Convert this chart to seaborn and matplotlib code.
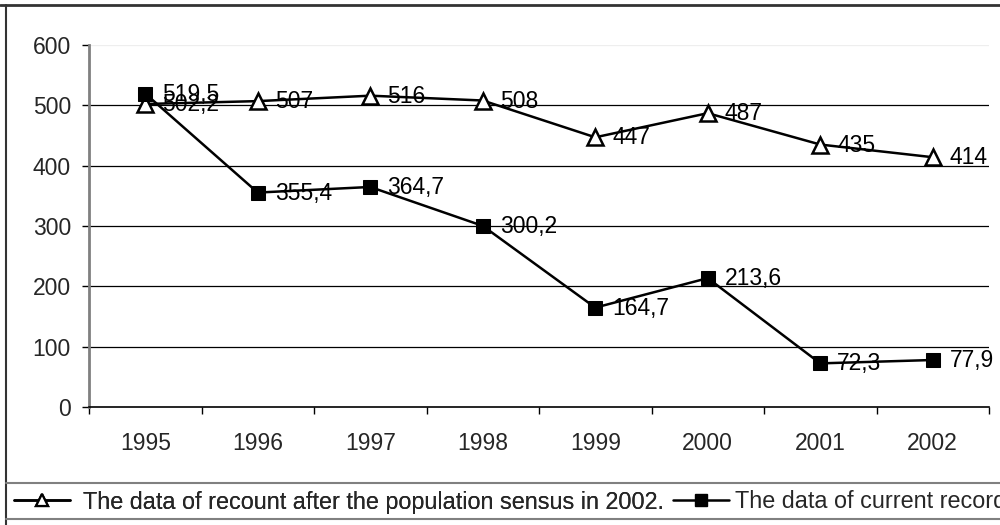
import matplotlib
matplotlib.use("Agg")
import matplotlib.pyplot as plt
import seaborn as sns
import pandas as pd
from matplotlib.lines import Line2D

years = ["1995", "1996", "1997", "1998", "1999", "2000", "2001", "2002"]
recount = [502.2, 507, 516, 508, 447, 487, 435, 414]
current = [519.5, 355.4, 364.7, 300.2, 164.7, 213.6, 72.3, 77.9]
name_recount = "The data of recount after the population sensus in 2002."
name_current = "The data of current records"
yticks = [0, 100, 200, 300, 400, 500, 600]

sns.set_style("white")
plt.rcParams["font.family"] = ["Liberation Sans", "DejaVu Sans"]
FS = 16.5
FSL = 16.8

fig = plt.figure(figsize=(10, 5.25), dpi=100)
ax = fig.add_axes([89/1000, 1-407/525, 900/1000, 362/525])

pos = list(range(len(years)))
df = pd.DataFrame({"pos": pos + pos,
                   "value": recount + current,
                   "series": [name_recount]*len(years) + [name_current]*len(years)})

sns.lineplot(data=df[df.series == name_recount], x="pos", y="value", ax=ax,
             color="black", lw=1.8, marker="^", markersize=11,
             markerfacecolor="white", markeredgecolor="black", markeredgewidth=1.8,
             legend=False, zorder=4)
sns.lineplot(data=df[df.series == name_current], x="pos", y="value", ax=ax,
             color="black", lw=1.8, marker="s", markersize=10,
             markerfacecolor="black", markeredgecolor="black",
             legend=False, zorder=4)

def fmt(v):
    s = ("%.1f" % v).rstrip("0").rstrip(".")
    return s.replace(".", ",")

for i, v in enumerate(recount):
    ax.annotate(fmt(v), (i, v), xytext=(17, -7), textcoords="offset pixels",
                ha="left", va="baseline", fontsize=FS, color="black", zorder=5)
for i, v in enumerate(current):
    ax.annotate(fmt(v), (i, v), xytext=(17, -7), textcoords="offset pixels",
                ha="left", va="baseline", fontsize=FS, color="black", zorder=5)

ax.set_xlim(-0.5, len(years) - 0.5)
ax.set_ylim(0, 600)
for y in yticks[1:-1]:
    ax.axhline(y, color="black", lw=0.9, zorder=1)
ax.axhline(600, color="#eeeeee", lw=0.9, zorder=1)

ax.set_xticks(pos)
ax.set_xticklabels(years, fontsize=FS)
ax.set_xticks([p - 0.5 for p in pos] + [len(years) - 0.5], minor=True)
ax.tick_params(axis="x", which="major", length=0, pad=18)
ax.tick_params(axis="x", which="minor", length=5, width=1, color="black", direction="out", bottom=True)
ax.set_yticks(yticks)
ax.set_yticklabels([str(t) for t in yticks], fontsize=FS)
ax.tick_params(axis="y", length=5, width=1, color="black", direction="out", left=True, pad=8)
ax.set_xlabel("")
ax.set_ylabel("")

for s in ["top", "right"]:
    ax.spines[s].set_visible(False)
ax.spines["left"].set_color("#808080")
ax.spines["left"].set_linewidth(2)
ax.spines["bottom"].set_color("black")
ax.spines["bottom"].set_linewidth(1.2)

# figure frame and legend box
fig.add_artist(Line2D([0, 1], [1-5/525, 1-5/525], transform=fig.transFigure, color="#333333", lw=2))
fig.add_artist(Line2D([6/1000, 6/1000], [0, 1-5/525], transform=fig.transFigure, color="#333333", lw=1.5))
fig.add_artist(Line2D([6/1000, 1], [1-483/525, 1-483/525], transform=fig.transFigure, color="#808080", lw=1.5))
fig.add_artist(Line2D([6/1000, 1], [1-519/525, 1-519/525], transform=fig.transFigure, color="#808080", lw=1.5))

h1 = Line2D([], [], color="black", lw=1.8, marker="^", markersize=9,
            markerfacecolor="white", markeredgecolor="black", markeredgewidth=1.6)
h2 = Line2D([], [], color="black", lw=1.8, marker="s", markersize=9,
            markerfacecolor="black")
leg1 = fig.legend([h1], [name_recount], loc="center left",
                  bbox_to_anchor=(14/1000, 1-502/525), frameon=False,
                  fontsize=FSL, handlelength=2.4, handletextpad=0.55,
                  borderpad=0, borderaxespad=0)
fig.add_artist(leg1)
fig.legend([h2], [name_current], loc="center left",
           bbox_to_anchor=(673/1000, 1-502/525), frameon=False,
           fontsize=FSL, handlelength=2.4, handletextpad=0.25,
           borderpad=0, borderaxespad=0)

fig.savefig("out.png", dpi=100)
